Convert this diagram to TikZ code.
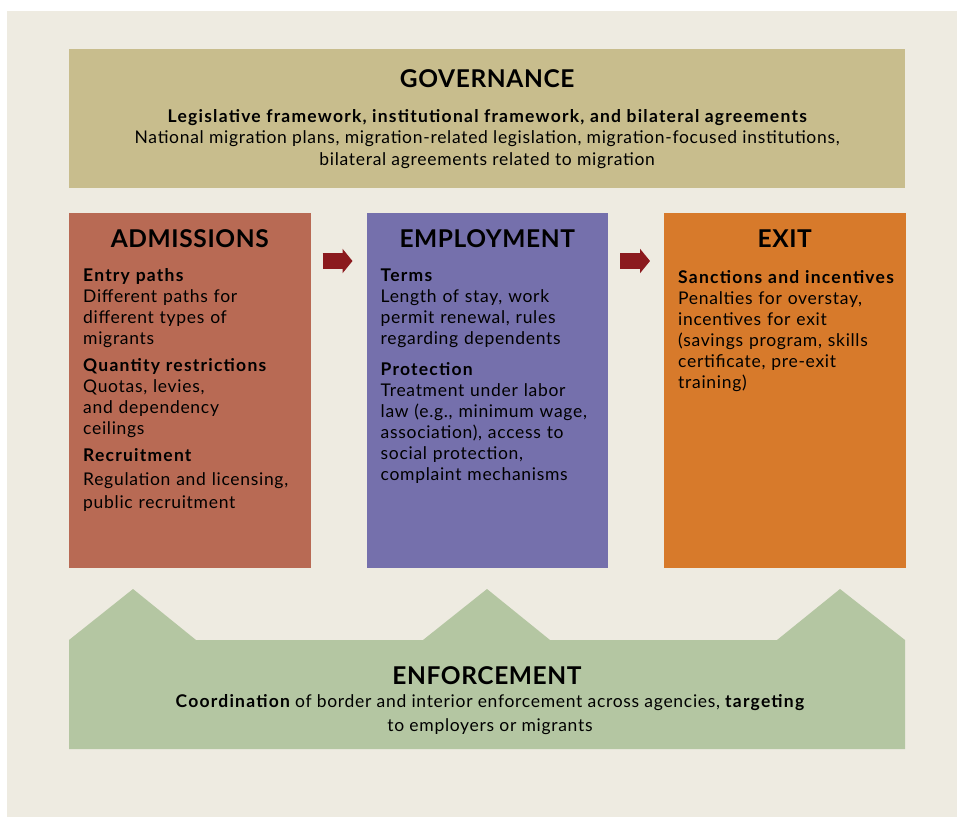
\documentclass[tikz,border=0pt]{standalone}
\usepackage{fontspec}
\setmainfont{Lato}[LetterSpace=4, BoldFeatures={LetterSpace=7}]
\newfontfamily\ttlfont{Lato}[LetterSpace=2.5]
\usepackage{tikz}
\usetikzlibrary{positioning,arrows.meta}
\definecolor{bgpale}{HTML}{EEEBE1}
\definecolor{govtan}{HTML}{C8BD8D}
\definecolor{admred}{HTML}{B86A54}
\definecolor{empblue}{HTML}{7570AC}
\definecolor{exitorg}{HTML}{D77A2B}
\definecolor{enfgreen}{HTML}{B4C6A2}
\definecolor{arrred}{HTML}{8B1A1E}
\newcommand{\hd}[1]{{\bfseries #1}}

\begin{document}
\begin{tikzpicture}[
  x=1pt, y=1pt,
  node distance=56pt,
  panel/.style={minimum width=241.5pt, minimum height=355pt, inner sep=0pt, outer sep=0pt},
  head/.style={font=\ttlfont\bfseries\fontsize{24.5pt}{28pt}\selectfont, inner sep=0pt},
  txt/.style={text width=224pt, align=left, anchor=north west, inner sep=0pt, font=\fontsize{17.5pt}{21pt}\selectfont},
  ctxt/.style={align=center, inner sep=0pt, font=\fontsize{17.5pt}{21.5pt}\selectfont},
  arr/.style={-{Triangle[length=10pt,width=24pt]}, line width=16pt, draw=arrred, shorten <=12pt, shorten >=14pt}
]
\useasboundingbox (0,0) rectangle (957,-817);
\fill[bgpale] (7,-11) rectangle (957,-817);

% governance band
\node[fill=govtan, minimum width=836pt, minimum height=139pt, inner sep=0pt, anchor=north west] (gov) at (69,-49) {};
\node[head] (govt) at ([yshift=-30pt]gov.north) {GOVERNANCE};
\node[ctxt] (govb) at ([yshift=-90pt]gov.north) {\hd{Legislative framework, institutional framework, and bilateral agreements}\\ National migration plans, migration-related legislation, migration-focused institutions,\\ bilateral agreements related to migration};

% the three stages
\node[panel, fill=admred, anchor=north west] (adm) at (69,-213) {};
\node[panel, fill=empblue, right=of adm] (emp) {};
\node[panel, fill=exitorg, right=of emp] (ext) {};

\node[head] (admt) at ([yshift=-26pt]adm.north) {ADMISSIONS};
\node[head] (empt) at ([yshift=-26pt]emp.north) {EMPLOYMENT};
\node[head] (extt) at ([yshift=-26pt]ext.north) {EXIT};

\node[txt] (admb) at ([xshift=14pt,yshift=-55pt]adm.north west) {\hd{Entry paths}\\ Different paths for\\ different types of\\ migrants\\[6pt]
  \hd{Quantity restrictions}\\ Quotas, levies,\\ and dependency\\ ceilings\\[6pt]
  \hd{Recruitment}\\[3pt] Regulation and licensing,\\[2pt] public recruitment};
\node[txt] (empb) at ([xshift=14pt,yshift=-56pt]emp.north west) {\hd{Terms}\\ Length of stay, work\\ permit renewal, rules\\ regarding dependents\\[10pt]
  \hd{Protection}\\ Treatment under labor\\ law (e.g., minimum wage,\\ association), access to\\ social protection,\\ complaint mechanisms};
\node[txt] (extb) at ([xshift=14pt,yshift=-57pt]ext.north west) {\hd{Sanctions and incentives}\\ Penalties for overstay,\\ incentives for exit\\ (savings program, skills\\ certificate, pre-exit\\ training)};

\draw[arr] ([yshift=-48pt]adm.north east) -- ([yshift=-48pt]emp.north west);
\draw[arr] ([yshift=-48pt]emp.north east) -- ([yshift=-48pt]ext.north west);

% enforcement base
\fill[enfgreen] (69,-640) -- (133,-589) -- (196,-640) -- (423,-640) -- (487,-589) -- (550,-640)
  -- (777,-640) -- (840,-589) -- (905,-640) -- (905,-749) -- (69,-749) -- cycle;
\node[head] (enft) at (487,-676) {ENFORCEMENT};
\node[ctxt, font=\fontsize{17.5pt}{24pt}\selectfont] (enfb) at (490,-715) {\hd{Coordination} of border and interior enforcement across agencies, \hd{targeting}\\ to employers or migrants};
\end{tikzpicture}
\end{document}
